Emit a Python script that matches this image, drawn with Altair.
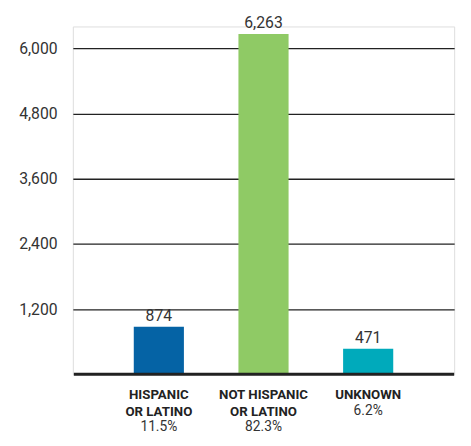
import altair as alt
import pandas as pd

categories = ["HISPANIC\nOR LATINO", "NOT HISPANIC\nOR LATINO", "UNKNOWN"]
counts = [874, 6263, 471]
percents = ["11.5%", "82.3%", "6.2%"]
colors = ["#0563a5", "#8fca65", "#00aabb"]
y_ticks = [1200, 2400, 3600, 4800, 6000]

FONT = "Roboto"

df = pd.DataFrame({
    "cat": categories,
    "count": counts,
    "pct": percents,
    "color": colors,
    "nlines": [c.count("\n") + 1 for c in categories],
})
df["pct_y"] = 378 + 17 * df["nlines"]

W, H = 388, 354

xscale = alt.Scale(domain=categories, paddingInner=0.521, paddingOuter=0.582)
yscale = alt.Scale(domain=[0, 6400], nice=False)

base = alt.Chart(df)

bars = base.mark_bar().encode(
    x=alt.X("cat:N", scale=xscale, axis=None, sort=categories),
    y=alt.Y("count:Q", scale=yscale,
            axis=alt.Axis(values=y_ticks, format=",.0f", title=None, domain=False, ticks=False,
                          labelPadding=16, labelFontSize=16, labelFont=FONT, labelColor="#333",
                          grid=True, gridColor="#222", gridWidth=1.3)),
    color=alt.Color("color:N", scale=None),
)

vals = base.mark_text(font=FONT, fontSize=16, color="#333", baseline="alphabetic", dy=-6).encode(
    x=alt.X("cat:N", scale=xscale, sort=categories),
    y=alt.Y("count:Q", scale=yscale),
    text=alt.Text("count:Q", format=",.0f"),
)

baseline_rule = alt.Chart(pd.DataFrame({"z": [0]})).mark_rule(color="#222", strokeWidth=3).encode(
    y=alt.Y("z:Q", scale=yscale),
    x=alt.value(1),
    x2=alt.value(W),
)

names = base.mark_text(font=FONT, fontSize=13.5, fontWeight="bold", color="#222",
                       baseline="alphabetic", lineBreak="\n", lineHeight=17).encode(
    x=alt.X("cat:N", scale=xscale, sort=categories),
    y=alt.value(379),
    text="cat:N",
)

pcts = base.mark_text(font=FONT, fontSize=14, color="#333", baseline="alphabetic").encode(
    x=alt.X("cat:N", scale=xscale, sort=categories),
    y=alt.Y("pct_y:Q", scale=None),
    text="pct:N",
)

chart = alt.layer(bars, baseline_rule, vals, names, pcts).properties(
    width=W, height=H,
    autosize=alt.AutoSizeParams(type="none"),
    padding={"left": 66, "top": 15, "right": 9, "bottom": 60},
).configure_view(stroke=None).configure(background="white")

chart.save("out.html", embed_options={"renderer": "svg", "actions": False})
